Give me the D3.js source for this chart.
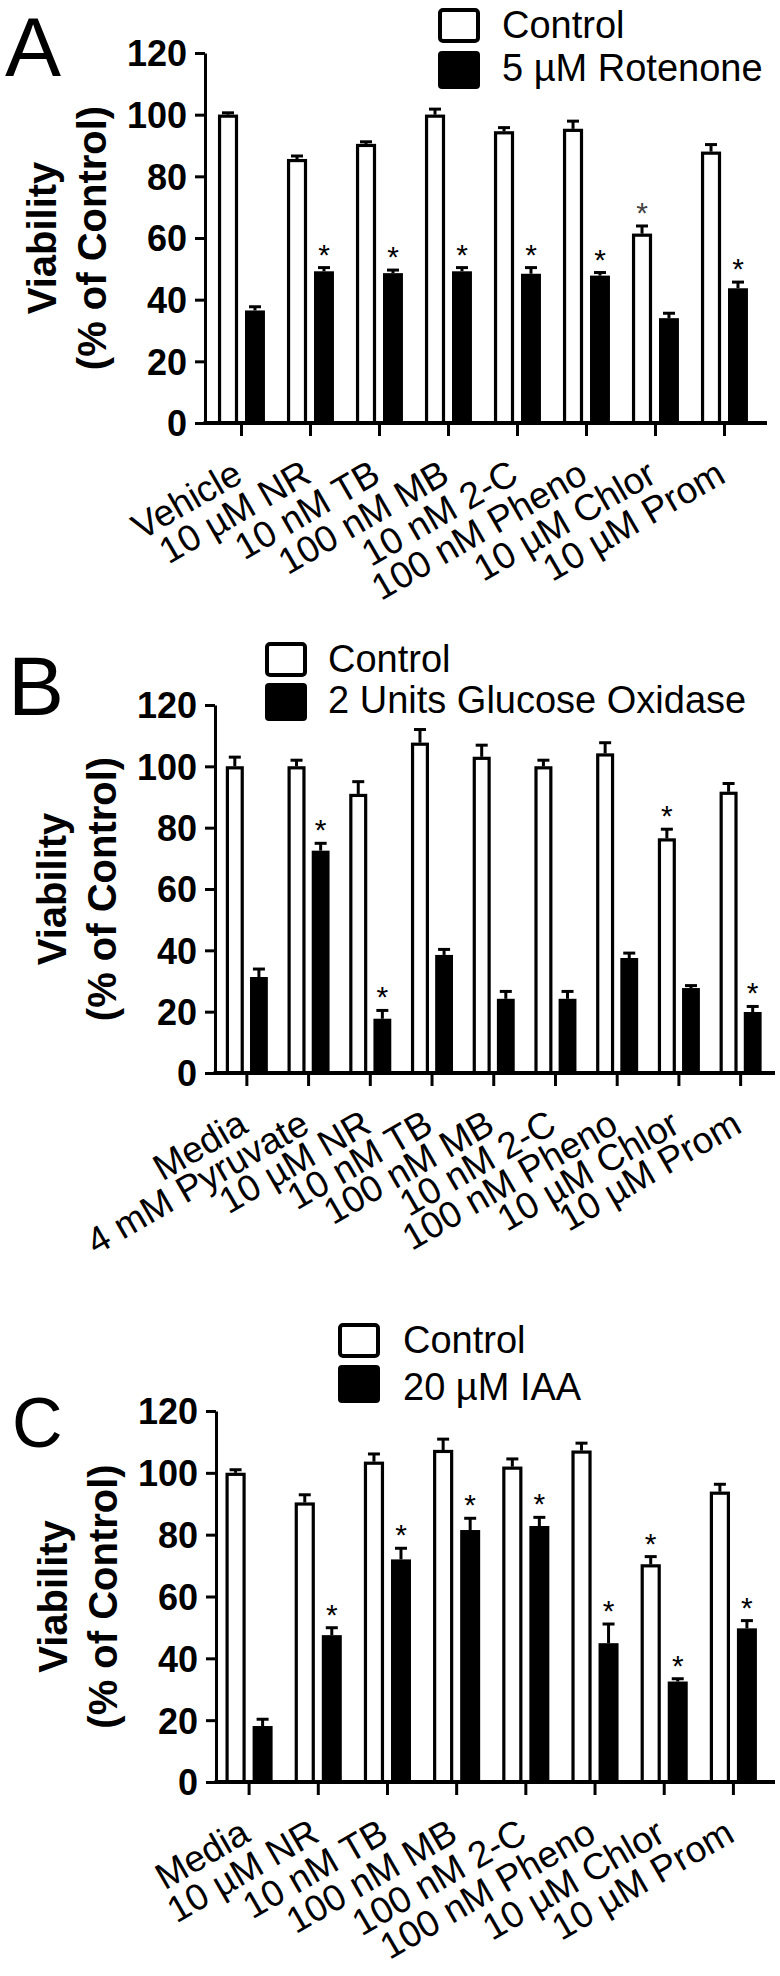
<!DOCTYPE html>
<html>
<head>
<meta charset="utf-8">
<script src="https://cdn.jsdelivr.net/npm/d3@7"></script>
<style>
  html, body { margin: 0; padding: 0; background: #fff; }
  svg { display: block; }
  text { font-family: "Liberation Sans", Arial, Helvetica, sans-serif; fill: #000; }
</style>
</head>
<body>
<svg id="chart" width="780" height="1976"></svg>
<script>
// ---------------- DATA ----------------
const yTicks = [0, 20, 40, 60, 80, 100, 120];
const yTitle1 = "Viability";
const yTitle2 = "(% of Control)";
const legendCtrl = "Control";

// Panel A
const catsA = ["Vehicle", "10 µM NR", "10 nM TB", "100 nM MB", "10 nM 2-C", "100 nM Pheno", "10 µM Chlor", "10 µM Prom"];
const ctrlA = [100, 85.6, 90.5, 100, 94.6, 95.4, 61.4, 88];
const ctrlErrA = [0.6, 1.0, 0.7, 1.8, 1.2, 2.5, 2.5, 2.3];
const trtA = [36.5, 49.2, 48.6, 49.2, 48.4, 47.8, 34.0, 43.7];
const trtErrA = [1.2, 1.2, 1.0, 1.2, 2.0, 1.0, 1.6, 2.0];
const starCtrlA = [0, 0, 0, 0, 0, 0, 1, 0];
const starTrtA = [0, 1, 1, 1, 1, 1, 0, 1];
const legendA = "5 µM Rotenone";

// Panel B
const catsB = ["Media", "4 mM Pyruvate", "10 µM NR", "10 nM TB", "100 nM MB", "10 nM 2-C", "100 nM Pheno", "10 µM Chlor", "10 µM Prom"];
const ctrlB = [100, 100, 91, 107.7, 103.1, 100, 104.2, 76.5, 91.7];
const ctrlErrB = [3.0, 2.0, 4.0, 4.3, 3.8, 2.0, 3.5, 3.0, 2.7];
const trtB = [31.3, 72.5, 17.7, 38.5, 24.2, 24.2, 37.5, 27.7, 19.9];
const trtErrB = [2.6, 2.4, 2.7, 1.8, 2.4, 2.4, 1.6, 0.8, 1.8];
const starCtrlB = [0, 0, 0, 0, 0, 0, 0, 1, 0];
const starTrtB = [0, 1, 1, 0, 0, 0, 0, 0, 1];
const legendB = "2 Units Glucose Oxidase";

// Panel C
const catsC = ["Media", "10 µM NR", "10 nM TB", "100 nM MB", "100 nM 2-C", "100 nM Pheno", "10 µM Chlor", "10 µM Prom"];
const ctrlC = [100, 90.4, 103.6, 107.4, 102, 107.2, 70.4, 93.9];
const ctrlErrC = [1.0, 2.5, 2.5, 3.5, 2.5, 2.4, 2.5, 2.4];
const trtC = [18.1, 47.5, 72.0, 81.5, 82.8, 44.9, 32.5, 49.7];
const trtErrC = [2.2, 2.4, 3.6, 3.8, 2.8, 6.2, 0.9, 2.5];
const starCtrlC = [0, 0, 0, 0, 0, 0, 1, 0];
const starTrtC = [0, 1, 1, 1, 1, 1, 1, 1];
const legendC = "20 µM IAA";

// ---------------- DRAW ----------------
const svg = d3.select("#chart");
svg.append("rect").attr("width", 780).attr("height", 1976).attr("fill", "#fff");

function panel(opt) {
  const { letter, letterPos, cats, ctrl, ctrlErr, trt, trtErr, starCtrl, starTrt, legendTrt,
          axisX, xRange, y0, y120, axisEnd, legendBox, legendText, ctrlStarColor } = opt;
  const g = svg.append("g");

  const x = d3.scaleBand().domain(cats).range(xRange).paddingInner(0).paddingOuter(0);
  const step = x.step();
  const sub = d3.scaleBand().domain(["ctrl", "trt"]).range([0, step]).paddingInner(0.26).paddingOuter(0.41);
  const y = d3.scaleLinear().domain([0, 120]).range([y0, y120]);

  // panel letter
  g.append("text").attr("x", letterPos[0]).attr("y", letterPos[1])
    .style("font-size", letterPos[2] + "px").text(letter);

  const rows = cats.map((c, i) => ({ c, i }));
  const bw = sub.bandwidth();
  // control (open) bars
  g.selectAll(".cbar").data(rows).enter().append("rect")
    .attr("x", d => x(d.c) + sub("ctrl") + 1.5)
    .attr("width", bw - 3)
    .attr("y", d => y(ctrl[d.i]) + 1.5)
    .attr("height", d => y(0) - y(ctrl[d.i]) - 1.5)
    .attr("fill", "#fff").attr("stroke", "#000").attr("stroke-width", 3.2);
  // treatment (filled) bars
  g.selectAll(".tbar").data(rows).enter().append("rect")
    .attr("x", d => x(d.c) + sub("trt"))
    .attr("width", bw)
    .attr("y", d => y(trt[d.i]))
    .attr("height", d => y(0) - y(trt[d.i]))
    .attr("fill", "#000");

  // error bars (upper only)
  function errBars(vals, errs, key) {
    const eg = g.append("g").attr("stroke", "#000").attr("stroke-width", 3);
    rows.forEach(d => {
      const cx = x(d.c) + sub(key) + bw / 2;
      const top = y(vals[d.i] + errs[d.i]);
      eg.append("line").attr("x1", cx).attr("x2", cx).attr("y1", y(vals[d.i])).attr("y2", top);
      eg.append("line").attr("x1", cx - 6).attr("x2", cx + 6).attr("y1", top).attr("y2", top);
    });
  }
  errBars(ctrl, ctrlErr, "ctrl");
  errBars(trt, trtErr, "trt");

  // stars
  function stars(vals, errs, flags, key, color) {
    rows.forEach(d => {
      if (!flags[d.i]) return;
      const cx = x(d.c) + sub(key) + bw / 2;
      g.append("text").attr("x", cx).attr("y", y(vals[d.i] + errs[d.i]) - 3)
        .attr("text-anchor", "middle").style("font-size", "30px").style("fill", color).text("*");
    });
  }
  stars(ctrl, ctrlErr, starCtrl, "ctrl", ctrlStarColor || "#000");
  stars(trt, trtErr, starTrt, "trt", "#000");

  // y axis
  const ya = g.append("g").attr("transform", `translate(${axisX},0)`)
    .call(d3.axisLeft(y).tickValues(yTicks).tickSize(10).tickSizeOuter(0).tickPadding(8).tickFormat(d3.format("d")));
  ya.select(".domain").attr("stroke-width", 3);
  ya.selectAll(".tick line").attr("stroke-width", 3);
  ya.selectAll(".tick text").style("font-size", "36px").style("font-weight", "bold")
    .attr("font-family", null).attr("dy", "0.36em");

  // x axis line
  g.append("line").attr("x1", axisX - 1.5).attr("x2", axisEnd).attr("y1", y0).attr("y2", y0)
    .attr("stroke", "#000").attr("stroke-width", 4);
  const xa = g.append("g").attr("transform", `translate(0,${y0})`)
    .call(d3.axisBottom(x).tickSize(13).tickSizeOuter(0));
  xa.select(".domain").remove();
  xa.selectAll(".tick line").attr("stroke-width", 3);
  xa.selectAll(".tick text")
    .attr("x", 0).attr("y", 0).attr("dy", null)
    .attr("transform", "translate(3,58) rotate(-30)")
    .attr("text-anchor", "end").attr("font-family", null)
    .style("font-size", "37px");

  // y title
  const cy = (y0 + y120) / 2;
  g.append("text").attr("transform", `translate(${axisX - 149},${cy}) rotate(-90)`)
    .attr("text-anchor", "middle").style("font-size", "40px").style("font-weight", "bold").text(yTitle1);
  g.append("text").attr("transform", `translate(${axisX - 99},${cy}) rotate(-90)`)
    .attr("text-anchor", "middle").style("font-size", "40px").style("font-weight", "bold").text(yTitle2);

  // legend
  const [lx, ly1, ly2] = legendBox;
  g.append("rect").attr("x", lx + 2).attr("y", ly1 + 2).attr("width", 38).attr("height", 31).attr("rx", 3)
    .attr("fill", "#fff").attr("stroke", "#000").attr("stroke-width", 4);
  g.append("rect").attr("x", lx).attr("y", ly2).attr("width", 42).attr("height", 38).attr("rx", 4)
    .attr("fill", "#000");
  const [tx, tb1, tb2] = legendText;
  g.append("text").attr("x", tx).attr("y", tb1).style("font-size", "38px").text(legendCtrl);
  g.append("text").attr("x", tx).attr("y", tb2).style("font-size", "38px").text(legendTrt);
}

panel({
  letter: "A", letterPos: [5, 76, 84],
  cats: catsA, ctrl: ctrlA, ctrlErr: ctrlErrA, trt: trtA, trtErr: trtErrA,
  starCtrl: starCtrlA, starTrt: starTrtA, legendTrt: legendA, ctrlStarColor: "#444",
  axisX: 205, xRange: [207, 759], y0: 423, y120: 53, axisEnd: 767,
  legendBox: [438, 8, 51], legendText: [502, 38, 81]
});

panel({
  letter: "B", letterPos: [8, 715, 84],
  cats: catsB, ctrl: ctrlB, ctrlErr: ctrlErrB, trt: trtB, trtErr: trtErrB,
  starCtrl: starCtrlB, starTrt: starTrtB, legendTrt: legendB,
  axisX: 215, xRange: [216, 771.5], y0: 1073, y120: 705, axisEnd: 775,
  legendBox: [265, 642, 683], legendText: [328, 672, 713]
});

panel({
  letter: "C", letterPos: [12, 1447, 70],
  cats: catsC, ctrl: ctrlC, ctrlErr: ctrlErrC, trt: trtC, trtErr: trtErrC,
  starCtrl: starCtrlC, starTrt: starTrtC, legendTrt: legendC,
  axisX: 216, xRange: [214.5, 768], y0: 1782, y120: 1411, axisEnd: 775,
  legendBox: [338, 1323, 1365], legendText: [403, 1353, 1400]
});
</script>
</body>
</html>
